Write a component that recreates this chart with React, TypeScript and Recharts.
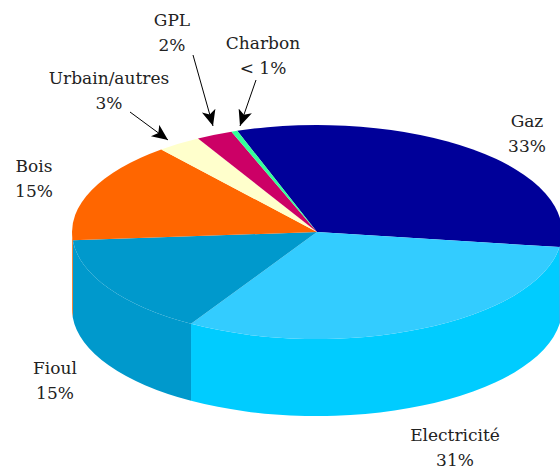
import React from "react";
import { PieChart, Pie, Cell } from "recharts";

// Energy mix as a tilted 3D pie: Recharts computes the angles, the shape squashes them
const names = ["Gaz", "Electricité", "Fioul", "Bois", "Urbain/autres", "GPL", "Charbon"];
const shares = [32.6, 31.4, 15.2, 15.3, 2.9, 2.4, 0.4];
const shareLabels = ["33%", "31%", "15%", "15%", "3%", "2%", "< 1%"];
const colors = ["#000099", "#33CCFF", "#0099CC", "#FF6600", "#FFFFCC", "#CC0066", "#33FF99"];
const wallColors = ["#000099", "#00CCFF", "#0099CC", "#FF6600", "#FFFFCC", "#CC0066", "#33FF99"];

const data = names.map((name, i) => ({ name, value: shares[i] }));

const WIDTH = 560;
const HEIGHT = 470;
const CX = 317;
const CY = 232;
const RX = 245;
const RY = 107;
const DEPTH = 77;
const FONT = "'DejaVu Serif', serif";

// label centres, first line baseline
const labelSpots = [
  { x: 527, y: 127 },
  { x: 455, y: 441 },
  { x: 55, y: 374 },
  { x: 34, y: 172 },
  { x: 109, y: 84 },
  { x: 172, y: 26 },
  { x: 263, y: 49 },
];

const arrows = [
  { x1: 130, y1: 112, x2: 168, y2: 140 },
  { x1: 193, y1: 55, x2: 213, y2: 126 },
  { x1: 256, y1: 80, x2: 240, y2: 126 },
];

const point = (angle: number, dy = 0) => {
  const r = (angle * Math.PI) / 180;
  return `${CX + RX * Math.cos(r)} ${CY - RY * Math.sin(r) + dy}`;
};

function Slice3D(props: any) {
  const { startAngle, endAngle, index } = props;
  const large = Math.abs(startAngle - endAngle) > 180 ? 1 : 0;
  const top = `M ${CX} ${CY} L ${point(startAngle)} A ${RX} ${RY} 0 ${large} 1 ${point(endAngle)} Z`;
  // only the part of the rim facing the viewer gets a wall
  const hi = Math.min(startAngle, 0);
  const lo = Math.max(endAngle, -180);
  return (
    <g>
      {hi > lo && (
        <path
          fill={wallColors[index]}
          d={`M ${point(hi)} A ${RX} ${RY} 0 0 1 ${point(lo)} L ${point(lo, DEPTH)} A ${RX} ${RY} 0 0 0 ${point(hi, DEPTH)} Z`}
        />
      )}
      <path fill={colors[index]} d={top} />
    </g>
  );
}

function SliceLabel(props: any) {
  const { index, name } = props;
  const spot = labelSpots[index];
  return (
    <text x={spot.x} y={spot.y} textAnchor="middle" fontFamily={FONT} fontSize={17} fill="#222">
      <tspan x={spot.x}>{name}</tspan>
      <tspan x={spot.x} dy={25}>
        {shareLabels[index]}
      </tspan>
    </text>
  );
}

export default function App() {
  return (
    <div style={{ position: "absolute", left: 0, top: 0, width: WIDTH, height: HEIGHT }}>
      <PieChart width={WIDTH} height={HEIGHT} margin={{ top: 0, right: 0, bottom: 0, left: 0 }}>
        <defs>
          <marker id="head" markerUnits="userSpaceOnUse" markerWidth="18" markerHeight="16" refX="16" refY="7" orient="auto">
            <path d="M0 0 L16 7 L0 14 L4 7 Z" fill="#000" />
          </marker>
        </defs>
        <Pie
          data={data}
          dataKey="value"
          nameKey="name"
          cx={CX}
          cy={CY}
          innerRadius={0}
          outerRadius={RX}
          startAngle={109}
          endAngle={-251}
          paddingAngle={0}
          stroke="none"
          shape={Slice3D}
          label={SliceLabel}
          labelLine={false}
          isAnimationActive={false}
        >
          {data.map((d, i) => (
            <Cell key={d.name} fill={colors[i]} />
          ))}
        </Pie>
        {arrows.map((a, i) => (
          <line key={i} {...a} stroke="#000" strokeWidth={1} markerEnd="url(#head)" />
        ))}
      </PieChart>
    </div>
  );
}
